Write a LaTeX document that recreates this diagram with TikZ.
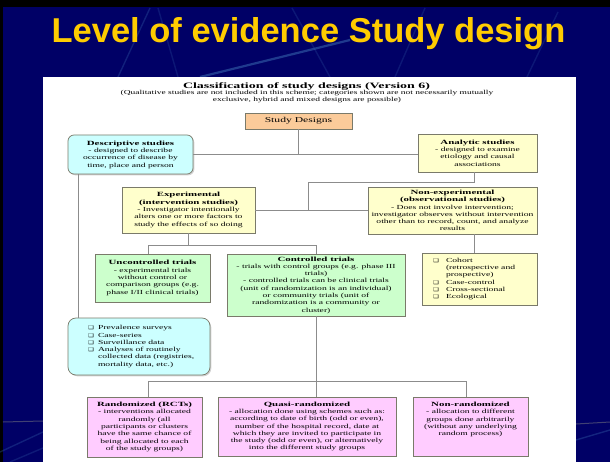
\documentclass[tikz,border=0pt]{standalone}
\usepackage{fontspec}
\setmainfont{Liberation Serif}
\newfontfamily\bodyf[FakeStretch=1.55]{Liberation Serif}
\newfontfamily\hdf[FakeStretch=1.7]{Liberation Serif Bold}
\newfontfamily\titlef{Liberation Sans Bold}
\newfontfamily\symf[FakeStretch=1.3]{DejaVu Sans}
\usetikzlibrary{shadows}
\definecolor{navybg}{HTML}{000066}
\definecolor{streak}{HTML}{3A6BB0}
\definecolor{titleyel}{HTML}{FFCC00}
\definecolor{peach}{HTML}{FBCB9A}
\definecolor{cyanbox}{HTML}{CCFFFF}
\definecolor{yelbox}{HTML}{FFFFCC}
\definecolor{grnbox}{HTML}{CCFFCC}
\definecolor{pinkbox}{HTML}{FFCCFF}
\definecolor{boxline}{HTML}{7A7A6A}
\definecolor{connline}{HTML}{8C8C8C}
\newcommand\hd[1]{{\hdf\fontsize{6.4}{7.3}\selectfont #1}}
\newcommand\bul[1]{\makebox[#1][l]{\symf\fontsize{5}{7.3}\selectfont ❑}}
\tikzset{
  box/.style={draw=boxline, line width=0.7pt, inner sep=1pt, align=center,
    font=\bodyf\fontsize{6.2}{7.3}\selectfont,
    drop shadow={shadow xshift=1.3pt, shadow yshift=-1.3pt, opacity=0.35}},
  conn/.style={draw=connline, line width=0.9pt},
  streakline/.style={draw=streak, line width=1.4pt, opacity=0.35}
}
\begin{document}
\begin{tikzpicture}[x=1pt,y=-1pt]
\useasboundingbox (0,0) rectangle (610,462);
% background
\fill[navybg] (0,0) rectangle (610,462);
\fill[black] (0,0) rectangle (610,7);
\fill[black] (0,0) rectangle (3,462);
% decorative streaks
\draw[streakline, line width=2.2pt, opacity=0.55] (200,77) -- (350,40);
\draw[streakline, opacity=0.3] (118,77) -- (150,8);
\draw[streakline, opacity=0.22] (178,77) -- (158,8);
\draw[streakline, opacity=0.22] (292,8) -- (330,77);
\draw[streakline, opacity=0.22] (395,77) -- (425,8);
\draw[streakline, opacity=0.22] (527,77) -- (558,12);
\draw[streakline, opacity=0.3] (0,452) -- (43,432);
\draw[streakline, opacity=0.25] (10,462) -- (43,448);
\draw[gray, opacity=0.5, line width=1pt] (3,422) -- (43,421);
\draw[gray, opacity=0.5, line width=1pt] (576,424) -- (610,422);
\draw[streakline, opacity=0.35] (576,440) -- (610,430);
% title
\node[anchor=base, font=\titlef\fontsize{34.5}{36}\selectfont, text=titleyel] (title) at (308.5,43) {Level of evidence Study design};
% white panel
\fill[white] (43,77) rectangle (576,462);
% headings of the scheme
\node[anchor=base, inner sep=0pt, font=\hdf\fontsize{8.2}{9}\selectfont] (cls) at (306.5,88.5) {Classification of study designs (Version 6)};
\node[anchor=north, inner sep=0pt, align=center, font=\bodyf\fontsize{6.1}{7.3}\selectfont] (sub) at (307,90) {(Qualitative studies are not included in this scheme; categories shown are not necessarily mutually\\ exclusive, hybrid and mixed designs are possible)};
% boxes
\node[box, fill=peach, minimum width=107pt, minimum height=16pt, font=\bodyf\fontsize{7.5}{8}\selectfont] (sd) at (298.5,121) {Study Designs};
\node[box, fill=cyanbox, rounded corners=6pt, minimum width=125pt, minimum height=39pt] (desc) at (130.5,154.5)
  {\hd{Descriptive studies}\\ - designed to describe\\ occurrence of disease by\\ time, place and person};
\node[box, fill=yelbox, minimum width=119pt, minimum height=38pt] (anal) at (477.5,153)
  {\hd{Analytic studies}\\ - designed to examine\\ etiology and causal\\ associations};
\node[box, fill=yelbox, minimum width=133pt, minimum height=46pt] (exp) at (188.5,210)
  {\hd{Experimental}\\ \hd{(intervention studies)}\\ - Investigator intentionally\\ alters one or more factors to\\ study the effects of so doing};
\node[box, fill=yelbox, minimum width=169pt, minimum height=47pt] (nonexp) at (452.5,210.5)
  {\hd{Non-experimental}\\ \hd{(observational studies)}\\ - Does not involve intervention;\\ investigator observes without intervention\\ other than to record, count, and analyze\\ results};
\node[box, fill=grnbox, minimum width=115pt, minimum height=48pt] (uncon) at (152.5,278)
  {\hd{Uncontrolled trials}\\ - experimental trials\\ without control or\\ comparison groups (e.g.\\ phase I/II clinical trials)};
\node[box, fill=grnbox, minimum width=178pt, minimum height=62pt] (con) at (316,285)
  {\hd{Controlled trials}\\ - trials with control groups (e.g. phase III\\ trials)\\ - controlled trials can be clinical trials\\ (unit of randomization is an individual)\\ or community trials (unit of\\ randomization is a community or\\ cluster)};
\node[box, fill=yelbox, minimum width=115pt, minimum height=52pt] (list) at (479.5,279)
  {\parbox{93pt}{\raggedright
   \mbox{\bul{13pt}Cohort}\\
   \mbox{\hspace*{13pt}(retrospective and}\\
   \mbox{\hspace*{13pt}prospective)}\\
   \mbox{\bul{13pt}Case-control}\\
   \mbox{\bul{13pt}Cross-sectional}\\
   \mbox{\bul{13pt}Ecological}}};
\node[box, fill=cyanbox, rounded corners=8pt, minimum width=142pt, minimum height=57pt] (prev) at (139,346.5)
  {\parbox{102pt}{\raggedright
   \mbox{\bul{10pt}Prevalence surveys}\\
   \mbox{\bul{10pt}Case-series}\\
   \mbox{\bul{10pt}Surveillance data}\\
   \mbox{\bul{10pt}Analyses of routinely}\\
   \mbox{\hspace*{10pt}collected data (registries,}\\
   \mbox{\hspace*{10pt}mortality data, etc.)}}};
\node[box, fill=pinkbox, minimum width=115pt, minimum height=60pt] (rand) at (144.5,427)
  {\hd{Randomized (RCTs)}\\ - interventions allocated\\ randomly (all\\ participants or clusters\\ have the same chance of\\ being allocated to each\\ of the study groups)};
\node[box, fill=pinkbox, minimum width=178pt, minimum height=59pt] (quasi) at (307,426.5)
  {\hd{Quasi-randomized}\\ - allocation done using schemes such as:\\ according to date of birth (odd or even),\\ number of the hospital record, date at\\ which they are invited to participate in\\ the study (odd or even), or alternatively\\ into the different study groups};
\node[box, fill=pinkbox, minimum width=115pt, minimum height=59pt] (nonrand) at (470.5,426.5)
  {\hd{Non-randomized}\\ - allocation to different\\ groups done arbitrarily\\ (without any underlying\\ random process)\\[8pt]\mbox{}};
% connector coordinates
\coordinate (v1) at (78,0);
\coordinate (v2) at (474,0);
\coordinate (jA) at (308,182);
\coordinate (jB) at (148,245);
\coordinate (jC) at (148,381);
\coordinate (v3) at (466,0);
% connectors
\draw[conn] (sd.south) -- (sd.south |- desc.east);
\draw[conn] (desc.east) -- (desc.east -| anal.west);
\draw[conn] (v2 |- anal.south) -- (v2 |- jA) -- (jA) -- (jA |- exp.east);
\draw[conn] (exp.east) -- (exp.east -| nonexp.west);
\draw[conn] (v2 |- nonexp.south) -- (v2 |- list.north);
\draw[conn] (v1 |- desc.south) -- (v1 |- prev.north);
\draw[conn] (exp.south) -- (exp.south |- jB);
\draw[conn] (jB |- uncon.north) -- (jB) -| (con.north);
\draw[conn] (con.south) -- (con.south |- quasi.north);
\draw[conn] (jC |- rand.north) -- (jC) -| (v3 |- nonrand.north);
\end{tikzpicture}
\end{document}
